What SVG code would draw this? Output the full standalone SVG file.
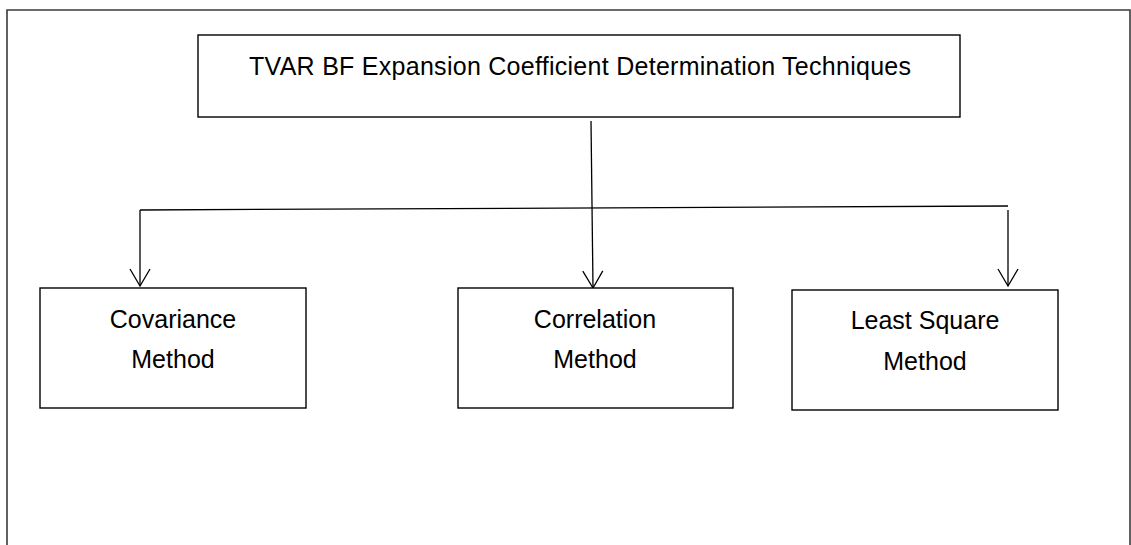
<svg xmlns="http://www.w3.org/2000/svg" width="1131" height="545" viewBox="0 0 1131 545">
  <style>
    .frame { fill: none; stroke: #3a3a3a; stroke-width: 1.6; }
    .box { fill: #ffffff; stroke: #000000; stroke-width: 1.4; }
    .label { font-family: "Liberation Sans", Arial, sans-serif; font-size: 25px; fill: #000000; text-anchor: middle; }
    .wire { fill: none; stroke: #000000; stroke-width: 1.3; }
  </style>
  <defs>
    <marker id="vee" markerUnits="userSpaceOnUse" markerWidth="24" markerHeight="24" viewBox="-20 -12 24 24" refX="0" refY="0" orient="auto">
      <path d="M -17 -10 L 0 0 L -17 10" fill="none" stroke="#000000" stroke-width="1.3"/>
    </marker>
  </defs>

  <rect x="0" y="0" width="1131" height="545" fill="#ffffff"/>

  <!-- outer page frame, open at the bottom -->
  <path class="frame" d="M 7 560 L 7 10 L 1130 10 L 1130 560"/>

  <!-- connectors -->
  <g id="connectors">
    <line class="wire" x1="591" y1="121" x2="593" y2="288" marker-end="url(#vee)"/>
    <line class="wire" x1="140" y1="210" x2="1008" y2="206"/>
    <line class="wire" x1="140" y1="210" x2="140" y2="286" marker-end="url(#vee)"/>
    <line class="wire" x1="1008" y1="210" x2="1008" y2="286" marker-end="url(#vee)"/>
  </g>

  <g id="root">
    <rect class="box" x="198" y="35" width="762" height="82"/>
    <text class="label" x="580" y="75" textLength="662" lengthAdjust="spacing">TVAR BF Expansion Coefficient Determination Techniques</text>
  </g>

  <g id="covariance">
    <rect class="box" x="40" y="288" width="266" height="120"/>
    <text class="label" x="173" y="328">Covariance</text>
    <text class="label" x="173" y="368">Method</text>
  </g>

  <g id="correlation">
    <rect class="box" x="458" y="288" width="275" height="120"/>
    <text class="label" x="595" y="328">Correlation</text>
    <text class="label" x="595" y="368">Method</text>
  </g>

  <g id="least-square">
    <rect class="box" x="792" y="290" width="266" height="120"/>
    <text class="label" x="925" y="329">Least Square</text>
    <text class="label" x="925" y="370">Method</text>
  </g>
</svg>
